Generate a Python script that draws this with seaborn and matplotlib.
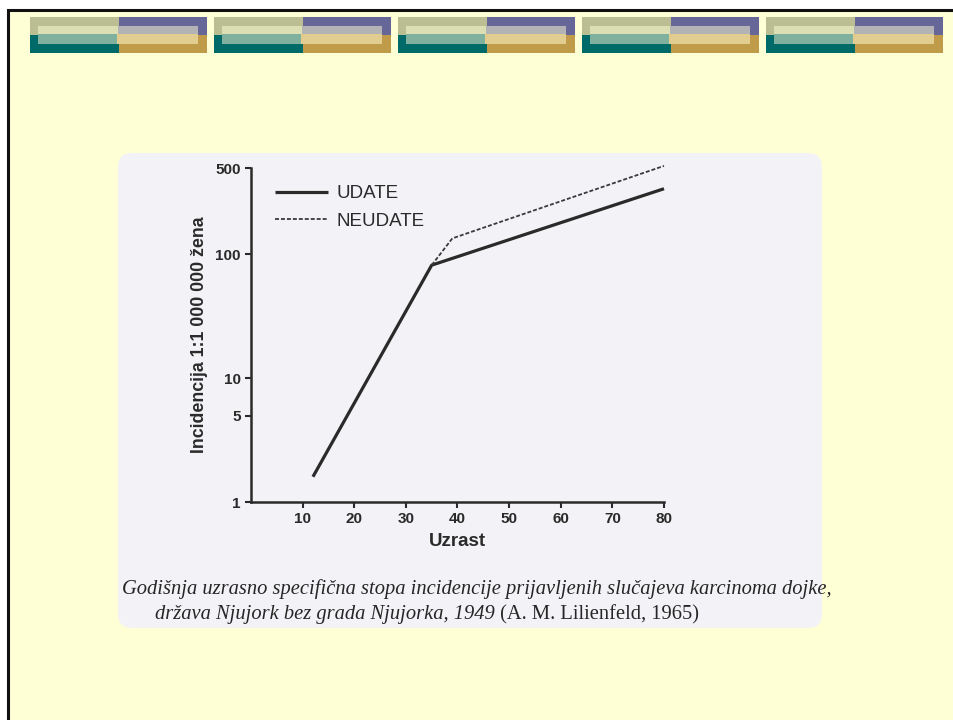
import numpy as np
import pandas as pd
import seaborn as sns
import matplotlib
matplotlib.use("Agg")
import matplotlib.pyplot as plt
from matplotlib.patches import Rectangle, FancyBboxPatch

# ---- data -------------------------------------------------------------
married_age = [12, 35, 80]
married_rate = [1.6, 82, 340]
unmarried_age = [35, 39, 80]
unmarried_rate = [82, 135, 520]
series_labels = ["UDATE", "NEUDATE"]
x_ticks = [10, 20, 30, 40, 50, 60, 70, 80]
y_ticks = [1, 5, 10, 100, 500]
x_label = "Uzrast"
y_label = "Incidencija 1:1 000 000 žena"
caption_line1 = "Godišnja uzrasno specifična stopa incidencije prijavljenih slučajeva karcinoma dojke,"
caption_line2_italic = "država Njujork bez grada Njujorka, 1949"
caption_line2_plain = " (A. M. Lilienfeld, 1965)"

df = pd.concat([
    pd.DataFrame({"age": married_age, "rate": married_rate, "group": series_labels[0]}),
    pd.DataFrame({"age": unmarried_age, "rate": unmarried_rate, "group": series_labels[1]}),
], ignore_index=True)

# ---- figure -----------------------------------------------------------
sns.set_theme(style="white")
plt.rcParams["font.family"] = ["Liberation Sans", "DejaVu Sans"]

W, H = 954, 720
fig = plt.figure(figsize=(W / 100, H / 100), dpi=100)
fig.patch.set_facecolor("white")

# slide background layer in pixel coordinates
bg = fig.add_axes([0, 0, 1, 1], zorder=0)
bg.set_xlim(0, W)
bg.set_ylim(H, 0)
bg.axis("off")

bg.add_patch(Rectangle((8.5, 10), W + 20, H + 20, facecolor="#FFFFD6",
                       edgecolor="#111111", linewidth=2.2))

# header ornament blocks
for x0 in [30, 214, 398, 582, 766]:
    bg.add_patch(Rectangle((x0, 17), 89, 18, facecolor="#BBBD93", lw=0))
    bg.add_patch(Rectangle((x0, 35), 89, 18, facecolor="#006A68", lw=0))
    bg.add_patch(Rectangle((x0 + 89, 17), 88, 18, facecolor="#666699", lw=0))
    bg.add_patch(Rectangle((x0 + 89, 35), 88, 18, facecolor="#C09C4A", lw=0))
    bg.add_patch(Rectangle((x0 + 8, 26), 80, 8, facecolor="#DCDFB3", lw=0))
    bg.add_patch(Rectangle((x0 + 8, 34), 80, 10, facecolor="#7FB19E", lw=0))
    bg.add_patch(Rectangle((x0 + 88, 26), 80, 8, facecolor="#B3B2B5", lw=0))
    bg.add_patch(Rectangle((x0 + 87, 34), 81, 10, facecolor="#E0CD8F", lw=0))

# pale panel behind the chart
bg.add_patch(FancyBboxPatch((124, 159), 692, 463,
                            boxstyle="round,pad=6,rounding_size=14",
                            facecolor="#F3F3F7", edgecolor="none"))

# ---- chart ------------------------------------------------------------
ink = "#2a2a2a"
ax = fig.add_axes([251 / W, 1 - 502 / H, 413 / W, 334 / H], zorder=2)
ax.set_facecolor("none")

sns.lineplot(data=df[df.group == series_labels[0]], x="age", y="rate",
             color=ink, linewidth=2.3, ax=ax, label=series_labels[0],
             clip_on=False, solid_capstyle="butt")
sns.lineplot(data=df[df.group == series_labels[1]], x="age", y="rate",
             color="#3a3a3a", linewidth=1.3, linestyle=(0, (2.2, 1.1)), ax=ax,
             label=series_labels[1], clip_on=False)

ax.set_yscale("log")
ax.set_xlim(0, 80)
ax.set_ylim(1, 500)
ax.set_xticks(x_ticks)
ax.set_xticklabels([str(v) for v in x_ticks])
ax.set_yticks(y_ticks)
ax.set_yticklabels([str(v) for v in y_ticks])
ax.yaxis.set_minor_locator(matplotlib.ticker.NullLocator())
ax.xaxis.set_minor_locator(matplotlib.ticker.NullLocator())

for side in ["top", "right"]:
    ax.spines[side].set_visible(False)
for side in ["left", "bottom"]:
    ax.spines[side].set_color(ink)
    ax.spines[side].set_linewidth(1.8)

ax.tick_params(axis="both", which="major", direction="out", length=4.5,
               width=1.5, color=ink, labelsize=11, labelcolor=ink, pad=3,
               bottom=True, left=True)
for lab in ax.get_xticklabels() + ax.get_yticklabels():
    lab.set_fontweight("bold")

ax.set_xlabel(x_label, fontsize=13.5, fontweight="bold", color=ink, va="center")
ax.xaxis.set_label_coords(0.50, -0.117)
ax.set_ylabel(y_label, fontsize=12.8, fontweight="bold", color=ink, va="center")
ax.yaxis.set_label_coords(-0.1235, 0.5)

leg = ax.legend(loc="upper left", bbox_to_anchor=(275 / W, 1 - 185 / H),
                bbox_transform=fig.transFigure, frameon=False, fontsize=13.5,
                handlelength=2.85, handletextpad=0.45, labelspacing=0.55,
                borderpad=0, borderaxespad=0)
for t in leg.get_texts():
    t.set_color(ink)

# ---- caption ----------------------------------------------------------
cap_color = "#262626"
serif = ["Liberation Serif", "DejaVu Serif"]
cap_size = 14.8
fig.text(122 / W, 1 - 589 / H, caption_line1, family=serif, style="italic",
         fontsize=cap_size, color=cap_color, va="center", ha="left")
t_it = fig.text(155 / W, 1 - 615 / H, caption_line2_italic, family=serif,
                style="italic", fontsize=cap_size, color=cap_color,
                va="center", ha="left")
fig.canvas.draw()
bb = t_it.get_window_extent(renderer=fig.canvas.get_renderer())
fig.text(bb.x1 / W, 1 - 615 / H, caption_line2_plain, family=serif,
         fontsize=cap_size, color=cap_color, va="center", ha="left")

fig.savefig("out.png", dpi=100, facecolor=fig.get_facecolor())
